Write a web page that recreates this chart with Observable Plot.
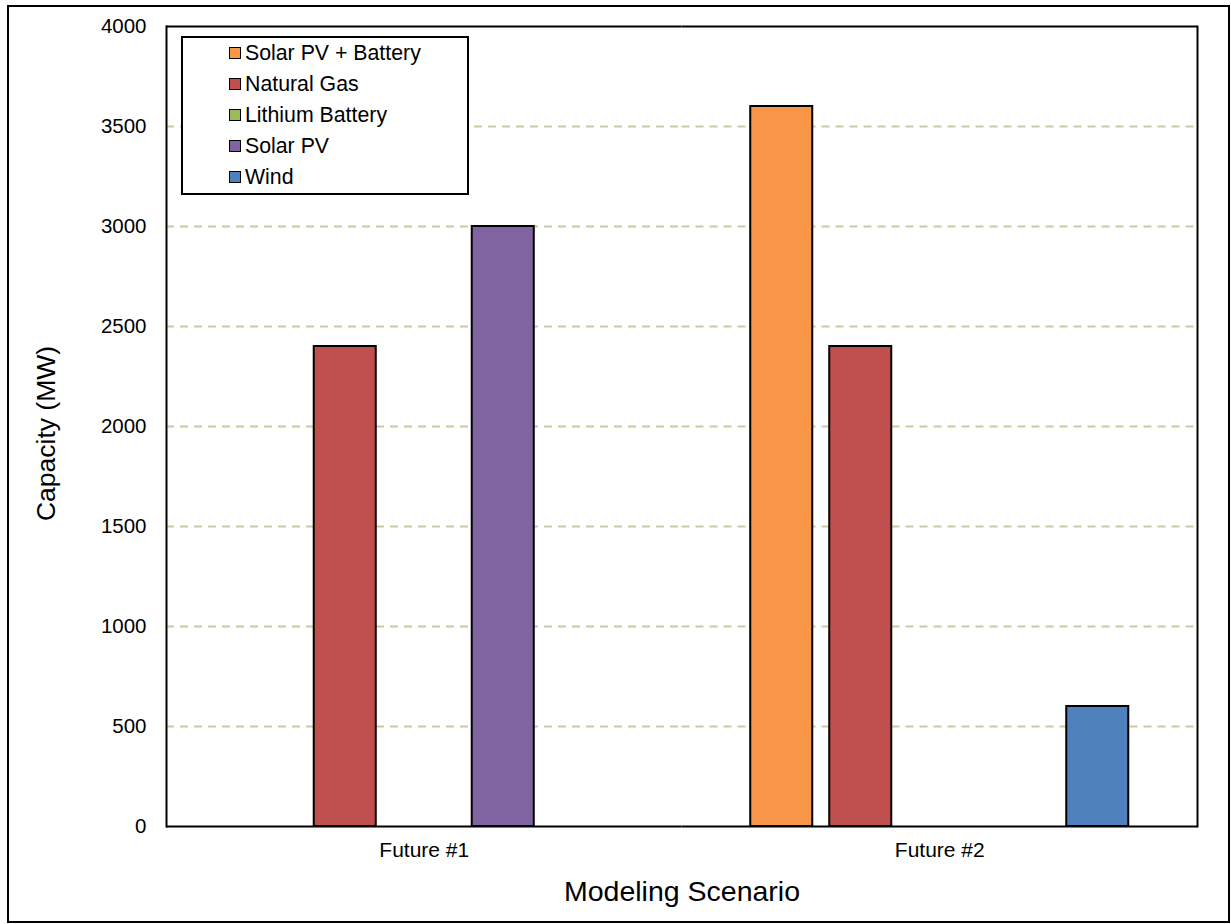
<!DOCTYPE html>
<html>
<head>
<meta charset="utf-8">
<script src="https://cdn.jsdelivr.net/npm/d3@7"></script>
<script src="https://cdn.jsdelivr.net/npm/@observablehq/plot@0.6"></script>
<style>
  body { margin: 0; background: #fff; font-family: "Liberation Sans", Arial, sans-serif; }
  #wrap { position: relative; width: 1231px; height: 924px; overflow: hidden; }
  #border { position: absolute; left: 7px; top: 5px; width: 1223px; height: 918px; border: 2px solid #000; box-sizing: border-box; pointer-events: none; }
  #chart { position: absolute; left: 0; top: 0; }
  #legend { position: absolute; left: 181px; top: 36px; width: 288px; height: 159px; border: 2px solid #000; box-sizing: border-box; background: #fff; }
  .item { position: absolute; left: 46px; height: 24px; display: flex; align-items: center; font-size: 21.3px; color: #000; white-space: nowrap; }
  .sw { width: 12px; height: 12px; border: 1.5px solid #000; box-sizing: border-box; margin-right: 4px; }
</style>
</head>
<body>
<div id="wrap">
  <div id="chart"></div>
  <div id="legend"></div>
  <div id="border"></div>
</div>
<script>
const scenarios = ["Future #1", "Future #2"];
const technologies = ["Solar PV + Battery", "Natural Gas", "Lithium Battery", "Solar PV", "Wind"];
const techColors = ["#f79646", "#c0504d", "#9bbb59", "#8064a2", "#4f81bd"];
const future1Values = [0, 2400, 0, 3000, 0];
const future2Values = [3600, 2400, 0, 0, 600];
const yTicks = [0, 500, 1000, 1500, 2000, 2500, 3000, 3500, 4000];
const gridValues = [500, 1000, 1500, 2000, 2500, 3000, 3500];
const yTitle = "Capacity (MW)";
const xTitle = "Modeling Scenario";

const seriesByScenario = [future1Values, future2Values];
const data = scenarios.flatMap((s, i) =>
  technologies.map((t, j) => ({scenario: s, tech: t, value: seriesByScenario[i][j]}))
);

const chart = Plot.plot({
  width: 1231,
  height: 924,
  marginLeft: 166,
  marginRight: 34,
  marginTop: 26,
  marginBottom: 98,
  style: {fontFamily: '"Liberation Sans", Arial, sans-serif', background: "transparent", color: "#000"},
  fx: {domain: scenarios, padding: 0, round: false, axis: null, label: null},
  x: {domain: technologies, paddingInner: 0.215, paddingOuter: 0.87, round: false, axis: null},
  y: {domain: [0, 4000], axis: null},
  color: {domain: technologies, range: techColors},
  marks: [
    Plot.ruleY(gridValues, {stroke: "#cdc7a2", strokeWidth: 2, strokeDasharray: "8,6"}),
    Plot.barY(data.filter(d => d.value > 0), {fx: "scenario", x: "tech", y: "value", fill: "tech", stroke: "#000", strokeWidth: 2}),
    Plot.ruleY([0, 4000], {stroke: "#000", strokeWidth: 2}),
    Plot.frame({anchor: "left", facetAnchor: "left", stroke: "#000", strokeWidth: 2}),
    Plot.frame({anchor: "right", facetAnchor: "right", stroke: "#000", strokeWidth: 2}),
    Plot.axisY(yTicks, {tickSize: 0, tickPadding: 20, fontSize: 20.5, tickFormat: d3.format("d"), label: null}),
    Plot.text([yTitle], {frameAnchor: "left", facetAnchor: "left", rotate: -90, dx: -120, dy: 7, fontSize: 26.5, textAnchor: "middle", fill: "#000"}),
    Plot.axisFx({anchor: "bottom", tickSize: 0, tickPadding: 16, fontSize: 21, label: null}),
    Plot.axisFx([], {anchor: "bottom", label: xTitle, labelAnchor: "center", labelArrow: "none", labelOffset: 74, fontSize: 28.5, tickSize: 0})
  ]
});
document.getElementById("chart").appendChild(chart);

const legend = document.getElementById("legend");
const rowCenters = [15, 46, 77, 108, 139];
technologies.forEach((t, i) => {
  const item = document.createElement("div");
  item.className = "item";
  item.style.top = (rowCenters[i] - 12) + "px";
  const sw = document.createElement("div");
  sw.className = "sw";
  sw.style.background = techColors[i];
  const label = document.createElement("span");
  label.textContent = t;
  item.appendChild(sw);
  item.appendChild(label);
  legend.appendChild(item);
});
</script>
</body>
</html>
